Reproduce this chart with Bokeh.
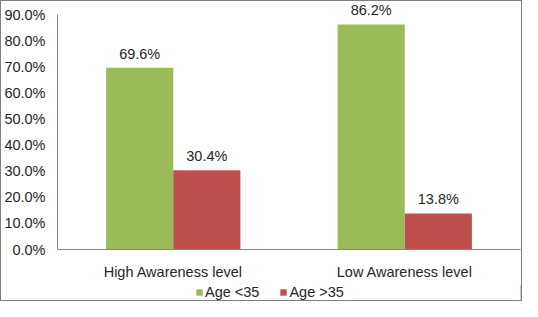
from bokeh.plotting import figure
from bokeh.layouts import column
from bokeh.models import NumeralTickFormatter, Legend, LegendItem, ColumnDataSource, FixedTicker, Range1d
from bokeh.transform import dodge
from bokeh.core.properties import value
from bokeh.embed import file_html
from bokeh.resources import INLINE

categories = ["High Awareness level", "Low Awareness level"]
series_names = ["Age <35", "Age >35"]
age_under_35 = [0.696, 0.862]
age_over_35 = [0.304, 0.138]
label_under = ["69.6%", "86.2%"]
label_over = ["30.4%", "13.8%"]
colors = ["#9BBB59", "#C0504D"]
FONT = "Liberation Sans"
FS = "14.5px"
TXT = "#262626"

src = ColumnDataSource(dict(cat=categories, a=age_under_35, b=age_over_35,
                            la=label_under, lb=label_over))

p = figure(x_range=categories, y_range=Range1d(0, 0.95), width=520, height=283,
           output_backend="svg", toolbar_location=None,
           min_border_left=49, min_border_right=1, min_border_top=0, min_border_bottom=35)

p.vbar(x=dodge("cat", -0.145, range=p.x_range), top="a", width=0.29, source=src,
       fill_color=colors[0], line_color=None)
p.vbar(x=dodge("cat", 0.145, range=p.x_range), top="b", width=0.29, source=src,
       fill_color=colors[1], line_color=None)

p.text(x=dodge("cat", -0.145, range=p.x_range), y="a", text="la", source=src,
       text_align="center", text_baseline="bottom", y_offset=-6,
       text_font=value(FONT), text_font_size=FS, text_color=TXT)
p.text(x=dodge("cat", 0.145, range=p.x_range), y="b", text="lb", source=src,
       text_align="center", text_baseline="bottom", y_offset=-6,
       text_font=value(FONT), text_font_size=FS, text_color=TXT)

p.xgrid.visible = False
p.ygrid.visible = False
p.outline_line_color = None
p.x_range.range_padding = 0.0

p.yaxis.ticker = FixedTicker(ticks=[i / 10 for i in range(10)])
p.yaxis.formatter = NumeralTickFormatter(format="0.0%")
p.yaxis.bounds = (0, 0.9)
for ax in (p.xaxis, p.yaxis):
    ax.axis_line_color = "#868686"
    ax.major_tick_line_color = None
    ax.minor_tick_line_color = None
    ax.major_label_text_font = FONT
    ax.major_label_text_font_size = FS
    ax.major_label_text_color = TXT
p.yaxis.major_label_standoff = 6
p.xaxis.major_label_standoff = 8

# legend in its own strip below the chart (its glyphs sit outside the visible range)
lg = figure(width=520, height=16, x_range=Range1d(0, 1), y_range=Range1d(0, 1),
            output_backend="svg", toolbar_location=None,
            x_axis_location=None, y_axis_location=None,
            min_border_left=0, min_border_right=0, min_border_top=0, min_border_bottom=0)
lg.grid.visible = False
lg.outline_line_color = None
g1 = lg.vbar(x=[5], top=[5], width=0.1, fill_color=colors[0], line_color=None)
g2 = lg.vbar(x=[5], top=[5], width=0.1, fill_color=colors[1], line_color=None)
legend = Legend(items=[LegendItem(label=series_names[0], renderers=[g1]),
                       LegendItem(label=series_names[1], renderers=[g2])],
                orientation="horizontal", location=(138, 0),
                label_text_font=FONT, label_text_font_size=FS,
                label_text_color=TXT, glyph_width=8, glyph_height=8,
                label_standoff=2, spacing=20, padding=0, margin=0,
                label_height=14, border_line_color=None, background_fill_alpha=0)
lg.add_layout(legend)

layout = column(p, lg, spacing=0, styles={"border": "1px solid #7f7f7f"})

open("out.html", "w").write(file_html(layout, INLINE))
